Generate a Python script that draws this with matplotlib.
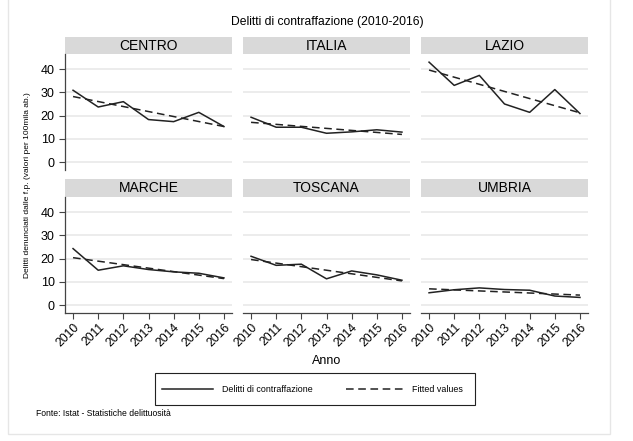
import matplotlib
matplotlib.use('Agg')
import matplotlib.pyplot as plt
from matplotlib.lines import Line2D
from matplotlib.patches import Rectangle

plt.rcParams['font.family'] = ['Liberation Sans', 'DejaVu Sans']

years = [2010, 2011, 2012, 2013, 2014, 2015, 2016]
regions = ['CENTRO', 'ITALIA', 'LAZIO', 'MARCHE', 'TOSCANA', 'UMBRIA']
centro = [30.9, 23.7, 26.0, 18.3, 17.4, 21.4, 15.3]
italia = [19.3, 15.0, 15.0, 12.4, 13.0, 13.9, 12.9]
lazio = [43.0, 33.0, 37.3, 25.0, 21.4, 31.2, 20.9]
marche = [24.3, 15.0, 16.9, 15.3, 14.3, 13.7, 11.7]
toscana = [21.0, 17.1, 17.6, 11.3, 14.7, 13.0, 10.7]
umbria = [5.3, 6.6, 7.4, 6.7, 6.4, 3.9, 3.3]
series = [centro, italia, lazio, marche, toscana, umbria]
# fitted (linear) values read at 2010 and 2016
fit_2010 = [28.2, 17.1, 39.6, 20.4, 19.6, 7.0]
fit_2016 = [15.3, 11.9, 21.2, 11.4, 10.4, 4.3]
yticks = [0, 10, 20, 30, 40]

W, H = 633, 441
fig = plt.figure(figsize=(W / 100, H / 100), dpi=100)


def box(x0, y0, x1, y1):
    return [x0 / W, 1 - y1 / H, (x1 - x0) / W, (y1 - y0) / H]


# outer light frame
fig.patches.append(Rectangle((8 / W, 1 - 434 / H), (610 - 8) / W, 434 / H + 0.05,
                             transform=fig.transFigure, fill=False,
                             edgecolor='#e6e6e6', lw=1.0, clip_on=False))

cols = [(65, 232), (243, 410), (421, 588)]
rows = [(37, 54, 170), (179, 197, 313)]
spine_c = '#444444'

for i, name in enumerate(regions):
    r, c = divmod(i, 3)
    x0, x1 = cols[c]
    st, pt, pb = rows[r]
    # strip
    sax = fig.add_axes(box(x0, st, x1, pt))
    sax.set_facecolor('#d9d9d9')
    for s in sax.spines.values():
        s.set_visible(False)
    sax.set_xticks([]); sax.set_yticks([])
    sax.text(0.5, 0.48, name, ha='center', va='center', fontsize=10, transform=sax.transAxes)

    ax = fig.add_axes(box(x0, pt, x1, pb))
    ax.set_xlim(2009.68, 2016.32)
    ax.set_ylim(-3.4, 46.5)
    for yv in yticks:
        ax.axhline(yv, color='#ebebeb', lw=1.3, zorder=0)
    ax.plot(years, series[i], color='#222222', lw=1.1, zorder=3)
    ax.plot([years[0], years[-1]], [fit_2010[i], fit_2016[i]], color='#222222',
            lw=1.1, dashes=(5, 3), zorder=3)
    ax.spines['top'].set_visible(False)
    ax.spines['right'].set_visible(False)
    ax.spines['left'].set_visible(c == 0)
    ax.spines['bottom'].set_visible(r == 1)
    ax.spines['left'].set_color(spine_c)
    ax.spines['bottom'].set_color(spine_c)
    ax.spines['left'].set_linewidth(0.9)
    ax.spines['bottom'].set_linewidth(0.9)
    ax.tick_params(direction='out', length=4, width=0.8, color=spine_c, labelsize=9)
    if c == 0:
        ax.set_yticks(yticks)
    else:
        ax.set_yticks([])
    if r == 1:
        ax.set_xticks(years)
        ax.set_xticklabels([str(y) for y in years], rotation=45, ha='right',
                           rotation_mode='anchor', fontsize=8.7)
        ax.tick_params(axis='x', pad=2)
    else:
        ax.set_xticks([])

fig.text(327 / W, 1 - 22 / H, 'Delitti di contraffazione (2010-2016)', ha='center',
         va='center', fontsize=8.7)
fig.text(28 / W, 1 - 185 / H, 'Delitti denunciati dalle f.p. (valori per 100mila ab.)',
         rotation=90, ha='center', va='center', fontsize=6)
fig.text(327 / W, 1 - 361 / H, 'Anno', ha='center', va='center', fontsize=9)
fig.text(36 / W, 1 - 413 / H, 'Fonte: Istat - Statistiche delittuosità', ha='left',
         va='center', fontsize=6.2)

# legend box
fig.patches.append(Rectangle((155 / W, 1 - 405 / H), (475 - 155) / W, (405 - 373) / H,
                             transform=fig.transFigure, fill=False, edgecolor='#222222',
                             lw=0.8))
ly = 1 - 389 / H
fig.lines.append(Line2D([162 / W, 213 / W], [ly, ly], transform=fig.transFigure,
                        color='#222222', lw=1.1))
fig.text(222 / W, ly, 'Delitti di contraffazione', ha='left', va='center', fontsize=6.4)
fig.lines.append(Line2D([346 / W, 405 / W], [ly, ly], transform=fig.transFigure,
                        color='#222222', lw=1.1, dashes=(5, 3)))
fig.text(412 / W, ly, 'Fitted values', ha='left', va='center', fontsize=6.4)

fig.savefig('out.png', dpi=100)
